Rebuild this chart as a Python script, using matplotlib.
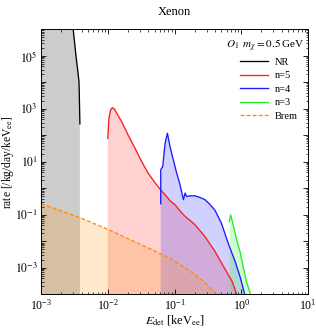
"""Xenon O1 rate spectra for m_chi = 0.5 GeV (NR, Migdal shells, Brem)."""

import matplotlib
matplotlib.use("Agg")
import matplotlib.pyplot as plt
from matplotlib.ticker import LogLocator, FuncFormatter, NullFormatter
import numpy as np

plt.rcParams["font.family"] = ["Liberation Serif", "DejaVu Serif"]
plt.rcParams["mathtext.fontset"] = "stix"

# values (E in keVee, rate in /kg/day/keVee)
nr_E = [1e-3, 2e-3, 3.0e-3, 3.3e-3, 3.5e-3, 3.67e-3, 3.78e-3]
nr_rate = [1e9, 1e8, 1e6, 1e5, 3e4, 1e4, 2.7e2]

n5_E = [0.0099, 0.0103, 0.0109, 0.0116, 0.0125, 0.0135, 0.016, 0.020, 0.0254,
        0.032, 0.040, 0.0507, 0.060, 0.075, 0.085, 0.101, 0.12, 0.143, 0.20,
        0.284, 0.40, 0.57, 0.72, 0.85]
n5_rate = [77, 440, 900, 1100, 950, 680, 325, 102, 32,
           10, 3.7, 1.6, 0.93, 0.5, 0.34, 0.24, 0.14, 0.087, 0.043,
           0.015, 0.0042, 8.7e-4, 3.2e-4, 1e-4]

n4_E = [0.0616, 0.0616, 0.066, 0.0716, 0.0776, 0.085, 0.095, 0.107, 0.12,
        0.135, 0.143, 0.151, 0.17, 0.20, 0.24, 0.284, 0.33, 0.40, 0.50,
        0.63, 0.80, 0.95, 1.12]
n4_rate = [0.26, 5.0, 6.6, 50, 120, 37, 12, 3.7, 1.35,
           0.37, 0.66, 0.49, 0.52, 0.52, 0.45, 0.37, 0.26, 0.15, 0.049,
           0.0087, 1.8e-3, 4.8e-4, 1e-4]

n3_E = [0.66, 0.69, 0.75, 0.85, 0.95, 1.07, 1.2, 1.37]
n3_rate = [0.056, 0.1, 0.043, 0.011, 4.2e-3, 1e-3, 2.8e-4, 1e-4]

brem_E = [1e-3, 3.8e-3, 0.01, 0.06, 0.1, 0.143, 0.2, 0.284, 0.36, 0.43]
brem_rate = [0.26, 0.077, 0.028, 0.0035, 1.8e-3, 1e-3, 5.6e-4, 2.8e-4, 1.5e-4, 1e-4]

series = [
    ("NR", nr_E, nr_rate, "black", "-"),
    ("n=5", n5_E, n5_rate, "#ff1a1a", "-"),
    ("n=4", n4_E, n4_rate, "#1a1aff", "-"),
    ("n=3", n3_E, n3_rate, "#22ee22", "-"),
    ("Brem", brem_E, brem_rate, "#ff8c00", (0, (3, 1.6))),
]

fig = plt.figure(figsize=(3.16, 3.29), dpi=100)
ax = fig.add_axes([0.131, 0.1055, 0.844, 0.8055])

for label, E, rate, color, ls in series:
    ax.fill_between(E, rate, 1e-12, color=color, alpha=0.2, lw=0)
    ax.plot(E, rate, color=color, ls=ls, lw=0.95, label=label)

ax.set_xscale("log")
ax.set_yscale("log")
ax.set_xlim(1e-3, 1e1)
ax.set_ylim(1e-4, 1e6)

ax.xaxis.set_major_locator(LogLocator(base=10, numticks=10))
ax.xaxis.set_minor_locator(LogLocator(base=10, subs=np.arange(2, 10), numticks=20))
ax.xaxis.set_minor_formatter(NullFormatter())
ax.yaxis.set_major_locator(LogLocator(base=10, numticks=20))
ax.yaxis.set_minor_locator(LogLocator(base=10, subs=np.arange(2, 10), numticks=40))
ax.yaxis.set_minor_formatter(NullFormatter())


def _odd_pow(val, pos):
    p = int(round(np.log10(val)))
    return f"$10^{{{p}}}$" if p % 2 else ""


ax.yaxis.set_major_formatter(FuncFormatter(_odd_pow))
ax.tick_params(which="both", direction="in", top=True, right=True,
               labelsize=8.5, pad=2.5)
ax.tick_params(which="major", length=3.5, width=0.6)
ax.tick_params(which="minor", length=1.8, width=0.5)
for s in ax.spines.values():
    s.set_linewidth(0.7)

ax.set_xlabel(r"$E_{\rm det}$ [keV$_{\rm ee}$]", fontsize=8.8)
ax.xaxis.set_label_coords(0.5, -0.072)
ax.set_ylabel(r"rate [/kg/day/keV$_{\rm ee}$]", fontsize=8.3)
ax.yaxis.set_label_coords(-0.094, 0.5)
ax.set_title("Xenon", fontsize=9, pad=10)

ax.text(0.985, 0.967, r"$O_1\;\; m_\chi = 0.5\,$GeV", transform=ax.transAxes,
        ha="right", va="top", fontsize=8)
ax.legend(loc="upper right", bbox_to_anchor=(0.977, 0.909), frameon=False,
          fontsize=7.5, handlelength=2.7, handletextpad=0.65, labelspacing=0.4,
          borderaxespad=0.0)

fig.savefig("out.png", dpi=100)
